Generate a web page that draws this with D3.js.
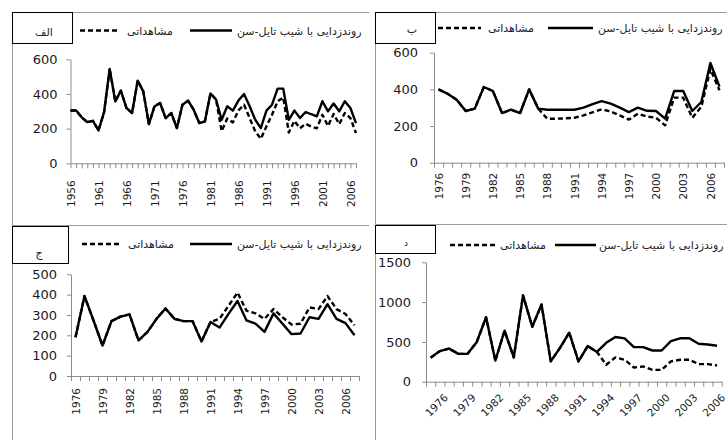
<!DOCTYPE html>
<html><head><meta charset="utf-8">
<script src="https://cdn.jsdelivr.net/npm/d3@7"></script>
<style>
html,body{margin:0;padding:0;background:#fff;}
svg{display:block;}
</style></head><body>
<svg id="chart" width="727" height="440"></svg>
<script>
// ---- Series: station A (1956–2007)
const yearsA = d3.range(1956, 2008);
const detrendA = [305,305,265,238,245,190,295,545,357,419,319,290,477,415,226,328,348,261,290,203,
  338,361,309,232,241,403,368,251,329,304,362,400,329,251,203,304,338,431,431,251,
  304,261,296,283,271,358,300,345,300,358,319,232];
const observedA = [305,305,265,238,245,190,295,545,357,419,319,290,477,415,226,328,348,261,290,203,
  338,361,309,232,241,403,368,185,258,236,305,338,261,184,141,213,280,358,380,178,
  245,202,228,212,202,280,215,285,226,290,261,174];
const yTicksA = [0, 200, 400, 600];
const xLabelsA = [1956,1961,1966,1971,1976,1981,1986,1991,1996,2001,2006];

// ---- Series: station B (1976–2007)
const yearsB = d3.range(1976, 2008);
const detrendB = [400,376,344,282,295,413,391,271,289,271,400,295,289,289,289,289,300,320,336,322,
  300,276,300,283,282,240,391,391,282,331,544,415];
const observedB = [400,376,344,282,295,413,391,271,289,271,400,295,240,240,242,245,258,275,291,280,
  258,235,267,252,245,204,355,355,245,305,510,395];
const yTicksB = [0, 200, 400, 600];
const xLabelsB = [1976,1979,1982,1985,1988,1991,1994,1997,2000,2003,2006];

// ---- Series: station C (1976–2007)
const yearsC = d3.range(1976, 2008);
const detrendC = [190,393,273,150,270,292,303,175,217,281,332,281,270,270,170,265,238,305,369,273,
  257,217,308,257,206,209,289,281,353,281,260,200];
const observedC = [190,393,273,150,270,292,303,175,217,281,332,281,270,270,170,265,281,345,410,321,
  308,281,329,289,253,257,337,329,393,329,305,249];
const yTicksC = [0, 100, 200, 300, 400, 500];
const xLabelsC = [1976,1979,1982,1985,1988,1991,1994,1997,2000,2003,2006];

// ---- Series: station D (1976–2007)
const yearsD = d3.range(1976, 2008);
const detrendD = [300,385,415,350,350,500,810,265,640,305,1085,690,970,255,425,616,255,447,374,489,
  561,545,434,434,392,392,510,545,545,476,468,451];
const observedD = [300,385,415,350,350,500,810,265,640,305,1085,690,970,255,425,616,255,447,374,213,
  306,276,178,191,149,149,255,276,276,221,221,204];
const yTicksD = [0, 500, 1000, 1500];
const xLabelsD = [1976,1979,1982,1985,1988,1991,1994,1997,2000,2003,2006];

// ---- Text
const legendObserved = "مشاهداتی";
const legendDetrended = "روندزدایی با شیب تایل-سن";
const panelTitles = ["الف", "ب", "ج", "د"];

const svg = d3.select("#chart");
const AXIS = "#8c8c8c";
const NUM_FONT = "'DejaVu Sans', sans-serif";
const AR_FONT = "'DejaVu Sans', sans-serif";

function drawPanel(o, idx) {
  const clipId = "clip" + idx;
  svg.append("clipPath").attr("id", clipId)
    .append("rect").attr("x", o.box.x).attr("y", o.box.y).attr("width", o.box.w).attr("height", o.box.h);
  const g = svg.append("g").attr("clip-path", `url(#${clipId})`);

  g.append("rect").attr("x", o.box.x).attr("y", o.box.y).attr("width", o.box.w).attr("height", o.box.h)
    .attr("fill", "#fff");
  // frame (left and top edges)
  g.append("path")
    .attr("d", `M${o.box.x + 0.5},${o.box.y + o.box.h}V${o.box.y + 0.5}H${o.box.x + o.box.w + 20}`)
    .attr("fill", "none").attr("stroke", "#9a9a9a").attr("stroke-width", 1);

  const x = d3.scaleLinear().domain(o.xDomain).range(o.xRange);
  const y = d3.scaleLinear().domain([0, o.yMax]).range(o.yRange);

  // y axis
  const ya = g.append("g").attr("transform", `translate(${o.xRange[0]},0)`)
    .call(d3.axisLeft(y).tickValues(o.yTicks).tickSize(4).tickSizeOuter(0)
      .tickPadding(o.yPad).tickFormat(d3.format("d")));
  ya.select(".domain").attr("stroke", AXIS);
  ya.selectAll(".tick line").attr("stroke", AXIS);
  ya.selectAll(".tick text").attr("fill", "#1a1a1a")
    .style("font-family", NUM_FONT).style("font-size", "13px");

  // x axis: tick marks
  const xa = g.append("g").attr("transform", `translate(0,${o.yRange[0]})`)
    .call(d3.axisBottom(x).tickValues(o.tickYears).tickSize(5).tickSizeOuter(0).tickFormat(""));
  xa.select(".domain").attr("stroke", AXIS);
  xa.selectAll(".tick line").attr("stroke", AXIS);

  // x axis: labels
  const xl = g.append("g").attr("transform", `translate(0,${o.yRange[0]})`)
    .call(d3.axisBottom(x).tickValues(o.xLabels).tickSize(0).tickFormat(d3.format("d")));
  xl.select(".domain").remove();
  const lt = xl.selectAll(".tick text").attr("fill", "#1a1a1a")
    .style("font-family", NUM_FONT).style("font-size", "10.5px")
    .attr("x", 0).attr("y", 0).attr("text-anchor", "end");
  if (o.rotate === -90) {
    lt.attr("dy", "0.35em").attr("transform", `translate(0,${o.xLabGap}) rotate(-90)`);
  } else {
    lt.attr("dy", "0.35em").attr("transform", `translate(${o.xLabDx},${o.xLabGap}) rotate(-45)`);
  }

  // series lines
  const line = d3.line().x(d => x(d[0])).y(d => y(d[1]));
  const obs = o.years.map((yr, i) => [yr, o.observed[i]]);
  const det = o.years.map((yr, i) => [yr, o.detrend[i]]);
  g.append("path").datum(obs).attr("d", line).attr("fill", "none")
    .attr("stroke", "#000").attr("stroke-width", 2.4).attr("stroke-dasharray", "5,3")
    .attr("stroke-linejoin", "round");
  g.append("path").datum(det).attr("d", line).attr("fill", "none")
    .attr("stroke", "#000").attr("stroke-width", 2.4).attr("stroke-linejoin", "round");

  // legend
  const L = o.legend;
  g.append("line").attr("x1", L.d1).attr("x2", L.d2).attr("y1", L.y).attr("y2", L.y)
    .attr("stroke", "#000").attr("stroke-width", 2.4).attr("stroke-dasharray", "5,3");
  g.append("text").attr("x", L.t1).attr("y", L.y + 4).text(legendObserved)
    .style("font-family", AR_FONT).style("font-size", "11px").attr("fill", "#222");
  g.append("line").attr("x1", L.s1).attr("x2", L.s2).attr("y1", L.y).attr("y2", L.y)
    .attr("stroke", "#000").attr("stroke-width", 2.4);
  g.append("text").attr("x", L.t2).attr("y", L.y + 4).text(legendDetrended)
    .style("font-family", AR_FONT).style("font-size", "11px").attr("fill", "#222");

  // panel title box
  const T = o.title;
  g.append("rect").attr("x", T.x + 0.5).attr("y", T.y + 0.5).attr("width", T.w).attr("height", T.h)
    .attr("fill", "#fff").attr("stroke", "#000").attr("stroke-width", 1);
  g.append("text").attr("x", T.tx).attr("y", T.ty).attr("text-anchor", "middle")
    .text(panelTitles[idx]).style("font-family", AR_FONT).style("font-size", T.fs + "px").attr("fill", "#222");
}

const between = yrs => d3.range(yrs[0] - 0.5, yrs[yrs.length - 1] + 1, 1);

const panels = [
  { box: {x: 12, y: 12, w: 357, h: 213},
    years: yearsA, detrend: detrendA, observed: observedA,
    xDomain: [1956, 2007], xRange: [70.5, 356], tickYears: yearsA,
    yMax: 600, yRange: [163.3, 59.3], yTicks: yTicksA, yPad: 9,
    xLabels: xLabelsA, rotate: -90, xLabGap: 17,
    legend: {d1: 80, d2: 120, t1: 127, s1: 190, s2: 232, t2: 237, y: 30.5},
    title: {x: 12, y: 12, w: 60, h: 31, tx: 44, ty: 36, fs: 11} },
  { box: {x: 375, y: 12, w: 352, h: 212},
    years: yearsB, detrend: detrendB, observed: observedB,
    xDomain: [1975.5, 2007.5], xRange: [434, 724], tickYears: between(yearsB),
    yMax: 600, yRange: [162.7, 52.7], yTicks: yTicksB, yPad: 12,
    xLabels: xLabelsB, rotate: -90, xLabGap: 10,
    legend: {d1: 438, d2: 481, t1: 488, s1: 548, s2: 593, t2: 598, y: 28},
    title: {x: 375, y: 12, w: 60, h: 31, tx: 412, ty: 33, fs: 11} },
  { box: {x: 12, y: 225, w: 357, h: 215},
    years: yearsC, detrend: detrendC, observed: observedC,
    xDomain: [1975.5, 2007.5], xRange: [71, 359], tickYears: between(yearsC),
    yMax: 500, yRange: [376, 274.3], yTicks: yTicksC, yPad: 10,
    xLabels: xLabelsC, rotate: -90, xLabGap: 12,
    legend: {d1: 82, d2: 122, t1: 128, s1: 190, s2: 232, t2: 237, y: 244},
    title: {x: 12, y: 226, w: 56, h: 37, tx: 39, ty: 257, fs: 11} },
  { box: {x: 375, y: 224, w: 352, h: 216},
    years: yearsD, detrend: detrendD, observed: observedD,
    xDomain: [1975.5, 2007.5], xRange: [426, 721.7], tickYears: between(yearsD),
    yMax: 1500, yRange: [381.7, 262.3], yTicks: yTicksD, yPad: 11,
    xLabels: xLabelsD, rotate: -45, xLabGap: 14, xLabDx: 15,
    legend: {d1: 450, d2: 495, t1: 500, s1: 555, s2: 596, t2: 599, y: 245},
    title: {x: 375, y: 225, w: 60, h: 28, tx: 406, ty: 246, fs: 9} }
];

panels.forEach(drawPanel);
</script>
</body></html>
